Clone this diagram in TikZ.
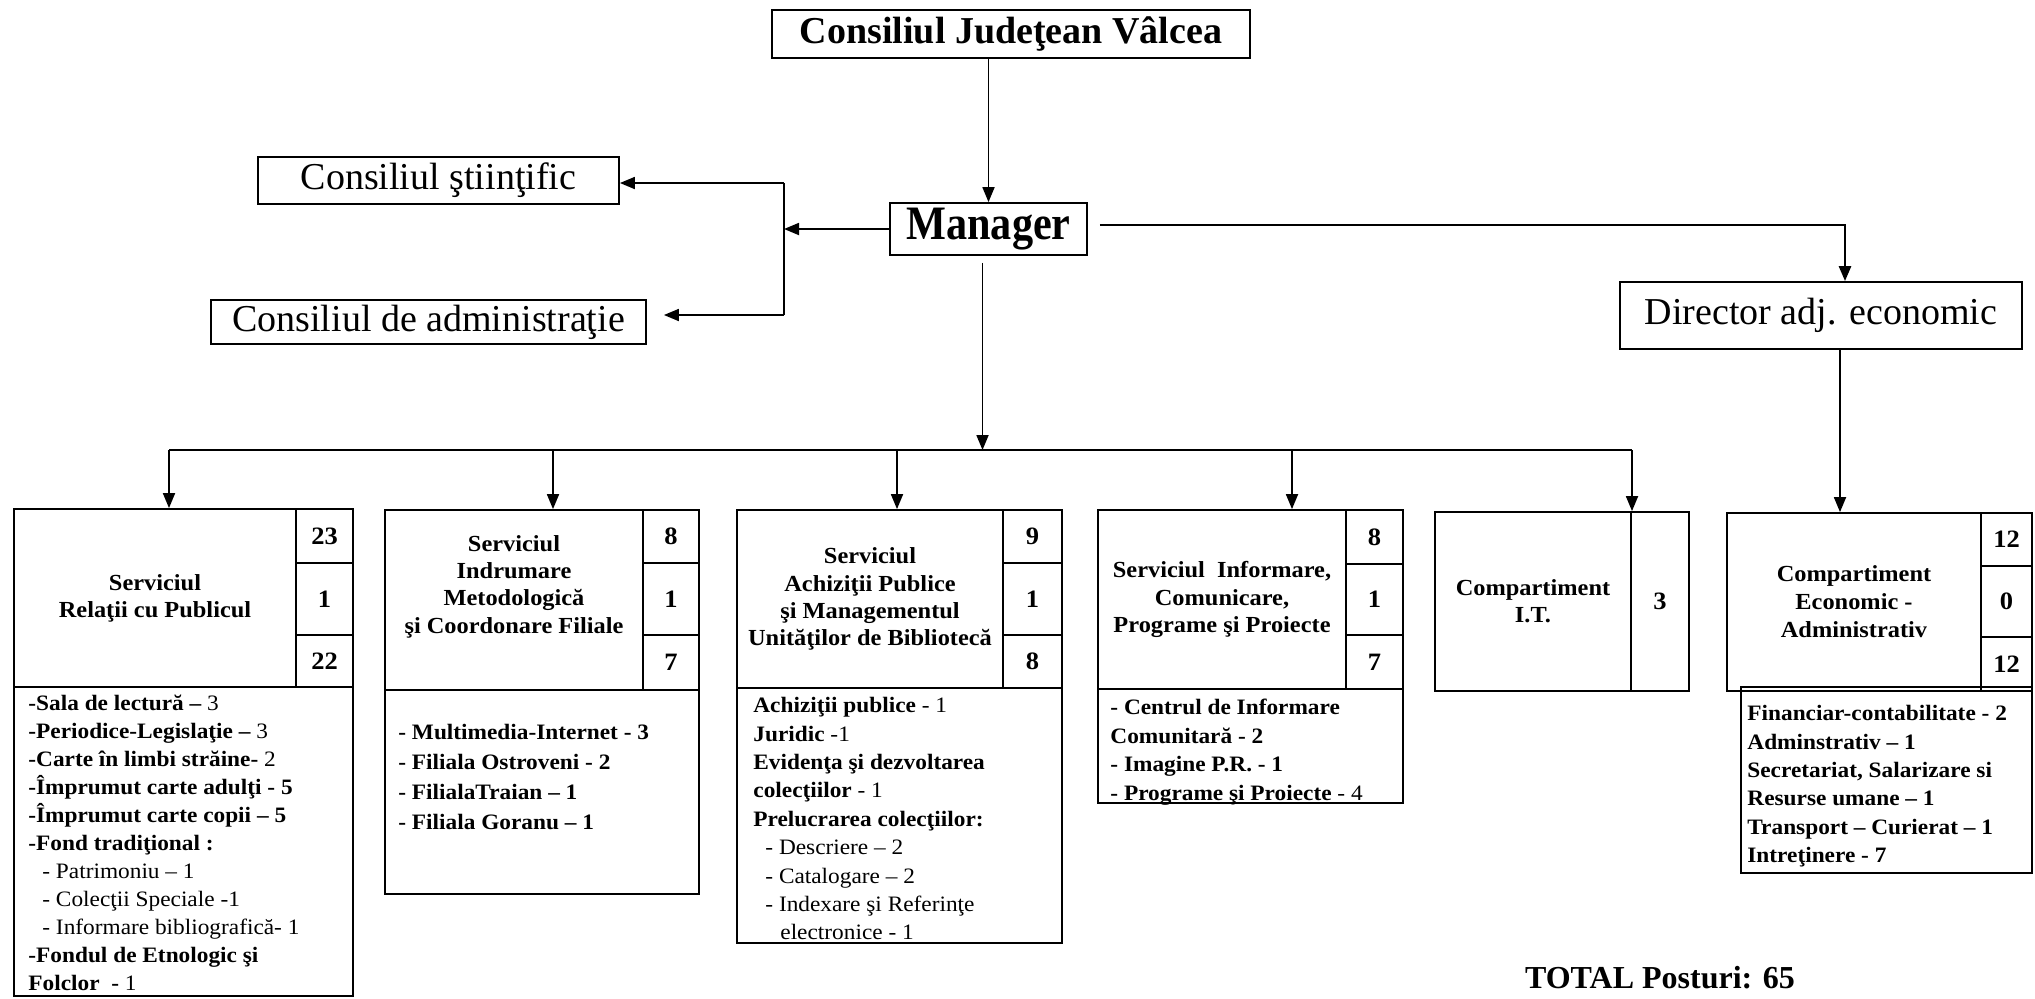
\documentclass[tikz,border=0pt]{standalone}
\usepackage{fontspec}
\setmainfont{Liberation Serif}
\newfontfamily\bx[FakeStretch=1.06]{Liberation Serif}
\newfontfamily\cnd[FakeStretch=0.88]{Liberation Serif}
\usetikzlibrary{arrows.meta}
\begin{document}
\begin{tikzpicture}[x=0.5pt,y=-0.5pt,
  rct/.style args={#1/#2/#3/#4}{at={({(#1+#3)/2},{(#2+#4)/2})}, minimum width={(#3-#1)*0.5pt}, minimum height={(#4-#2)*0.5pt}},
  arr/.style={-{Triangle[length=7.5pt,width=6pt]}, line width=0.9pt},
  ln/.style={line width=0.9pt},
  topbox/.style={draw, line width=0.9pt, inner sep=0pt, align=center, font=\fontsize{19}{22}\selectfont},
  cellbox/.style={draw, line width=0.9pt, inner sep=0pt, align=center, font=\bx\bfseries\fontsize{11.5}{13.6}\selectfont},
  numbox/.style={cellbox, font=\bx\bfseries\fontsize{12.5}{14}\selectfont},
  listtxt/.style={anchor=north west, inner sep=0pt, align=left, font=\bx\bfseries\fontsize{11}{14.2}\selectfont},
]
\useasboundingbox (0,0) rectangle (2035,998);
\fill[white] (0,0) rectangle (2035,998);

% top level
\node[topbox, rct=772/10/1250/58, font=\bfseries\fontsize{19}{22}\selectfont] (cj) {Consiliul Judeţean Vâlcea};
\node[topbox, rct=890/203/1087/255, font=\cnd\bfseries\fontsize{24}{26}\selectfont] (mgr) {Manager};
\node[topbox, rct=258/157/619/204] (cs) {Consiliul ştiinţific};
\node[topbox, rct=211/300/646/344] (ca) {Consiliul de administraţie};
\node[topbox, rct=1620/282/2022/349] (dir) {Director adj. economic};

% connectors top
\coordinate (vt) at (784,183);
\coordinate (vb) at (784,315);
\draw[ln] (vt) -- (vb);
\draw[arr] (mgr.west) -- (mgr.west -| vt);
\draw[arr] (vt) -- (vt -| cs.east);
\draw[arr, shorten >=8.5pt] (vb) -- (vb -| ca.east);
\draw[arr] (cj.south -| mgr.north) -- (mgr.north);
\draw[arr, line width=1.3pt, shorten <=6pt] ([yshift=2pt]mgr.east) -| ([xshift=12pt]dir.north);

% bus
\coordinate (b1) at (169,450);
\coordinate (b2) at (553,450);
\coordinate (b3) at (897,450);
\coordinate (b4) at (1292,450);
\coordinate (b5) at (1632,450);
\draw[line width=1.2pt] (b1) -- (b5);
\draw[arr, shorten <=3.5pt] ([xshift=-3pt]mgr.south) -- ([xshift=-3pt]mgr.south |- b1);

% box 1
\node[cellbox, rct=14/509/296/687] (t1) {Serviciul\\Relaţii cu Publicul};
\node[numbox, rct=296/509/353/563] (n1a) {23};
\node[numbox, rct=296/563/353/635] (n1b) {1};
\node[numbox, rct=296/635/353/687] (n1c) {22};
\node[cellbox, rct=14/687/353/996] (l1) {};
\node[listtxt, font=\bx\bfseries\fontsize{11}{14}\selectfont] (x1) at (28,695) {-Sala de lectură – {\mdseries 3}\\
-Periodice-Legislaţie – {\mdseries 3}\\
-Carte în limbi străine- {\mdseries 2}\\
-Împrumut carte adulţi - 5\\
-Împrumut carte copii – 5\\
-Fond tradiţional :\\
\hspace{7pt}{\mdseries - Patrimoniu – 1}\\
\hspace{7pt}{\mdseries - Colecţii Speciale -1}\\
\hspace{7pt}{\mdseries - Informare bibliografică- 1}\\
-Fondul de Etnologic şi\\
Folclor\ \ - {\mdseries 1}};

% box 2
\node[cellbox, rct=385/510/643/690] (t2) {Serviciul\\Indrumare\\Metodologică\\şi Coordonare Filiale\\[2pt]\mbox{}};
\node[numbox, rct=643/510/699/563] (n2a) {8};
\node[numbox, rct=643/563/699/635] (n2b) {1};
\node[numbox, rct=643/635/699/690] (n2c) {7};
\node[cellbox, rct=385/690/699/894] (l2) {};
\node[listtxt, font=\bx\bfseries\fontsize{11}{15}\selectfont] (x2) at (398,724) {- Multimedia-Internet - 3\\
- Filiala Ostroveni - 2\\
- FilialaTraian – 1\\
- Filiala Goranu – 1};

% box 3
\node[cellbox, rct=737/510/1003/688] (t3) {Serviciul\\Achiziţii Publice\\şi Managementul\\Unităţilor de Bibliotecă};
\node[numbox, rct=1003/510/1062/563] (n3a) {9};
\node[numbox, rct=1003/563/1062/635] (n3b) {1};
\node[numbox, rct=1003/635/1062/688] (n3c) {8};
\node[cellbox, rct=737/688/1062/943] (l3) {};
\node[listtxt] (x3) at (753,697) {Achiziţii publice {\mdseries - 1}\\
Juridic {\mdseries -1}\\
Evidenţa şi dezvoltarea\\
colecţiilor {\mdseries - 1}\\
Prelucrarea colecţiilor:\\
\hspace{6pt}{\mdseries - Descriere – 2}\\
\hspace{6pt}{\mdseries - Catalogare – 2}\\
\hspace{6pt}{\mdseries - Indexare şi Referinţe}\\
\hspace{13.5pt}{\mdseries electronice - 1}};

% box 4
\node[cellbox, rct=1098/510/1346/689] (t4) {Serviciul\ \ Informare,\\Comunicare,\\Programe şi Proiecte};
\node[numbox, rct=1346/510/1403/564] (n4a) {8};
\node[numbox, rct=1346/564/1403/635] (n4b) {1};
\node[numbox, rct=1346/635/1403/689] (n4c) {7};
\node[cellbox, rct=1098/689/1403/803] (l4) {};
\node[listtxt] (x4) at (1110,699) {- Centrul de Informare\\
Comunitară - 2\\
- Imagine P.R. - 1\\
- Programe şi Proiecte {\mdseries - 4}};

% box 5
\node[cellbox, rct=1435/512/1631/691] (t5) {Compartiment\\I.T.};
\node[numbox, rct=1631/512/1689/691] (n5) {3};

% box 6
\node[cellbox, rct=1727/513/1981/691, font=\bx\bfseries\fontsize{11.5}{14}\selectfont] (t6) {Compartiment\\Economic -\\Administrativ};
\node[numbox, rct=1981/513/2032/566] (n6a) {12};
\node[numbox, rct=1981/566/2032/637] (n6b) {0};
\node[numbox, rct=1981/637/2032/691] (n6c) {12};
\node[cellbox, rct=1741/687/2032/873] (l6) {};
\node[listtxt] (x6) at (1747,705) {Financiar-contabilitate - 2\\
Adminstrativ – 1\\
Secretariat, Salarizare si\\
Resurse umane – 1\\
Transport – Curierat – 1\\
Intreţinere - 7};

% drops
\draw[arr] (b1) -- (b1 |- t1.north);
\draw[arr] (b2) -- (b2 |- t2.north);
\draw[arr] (b3) -- (b3 |- t3.north);
\draw[arr] (b4) -- (b4 |- t4.north);
\draw[arr] (b5) -- (b5 |- t5.north);
\draw[arr] ([xshift=9.5pt]dir.south) -- ([xshift=9.5pt]dir.south |- t6.north);

\node[font=\bfseries\fontsize{16}{18}\selectfont] (total) at (1660,978) {TOTAL Posturi: 65};
\end{tikzpicture}
\end{document}
